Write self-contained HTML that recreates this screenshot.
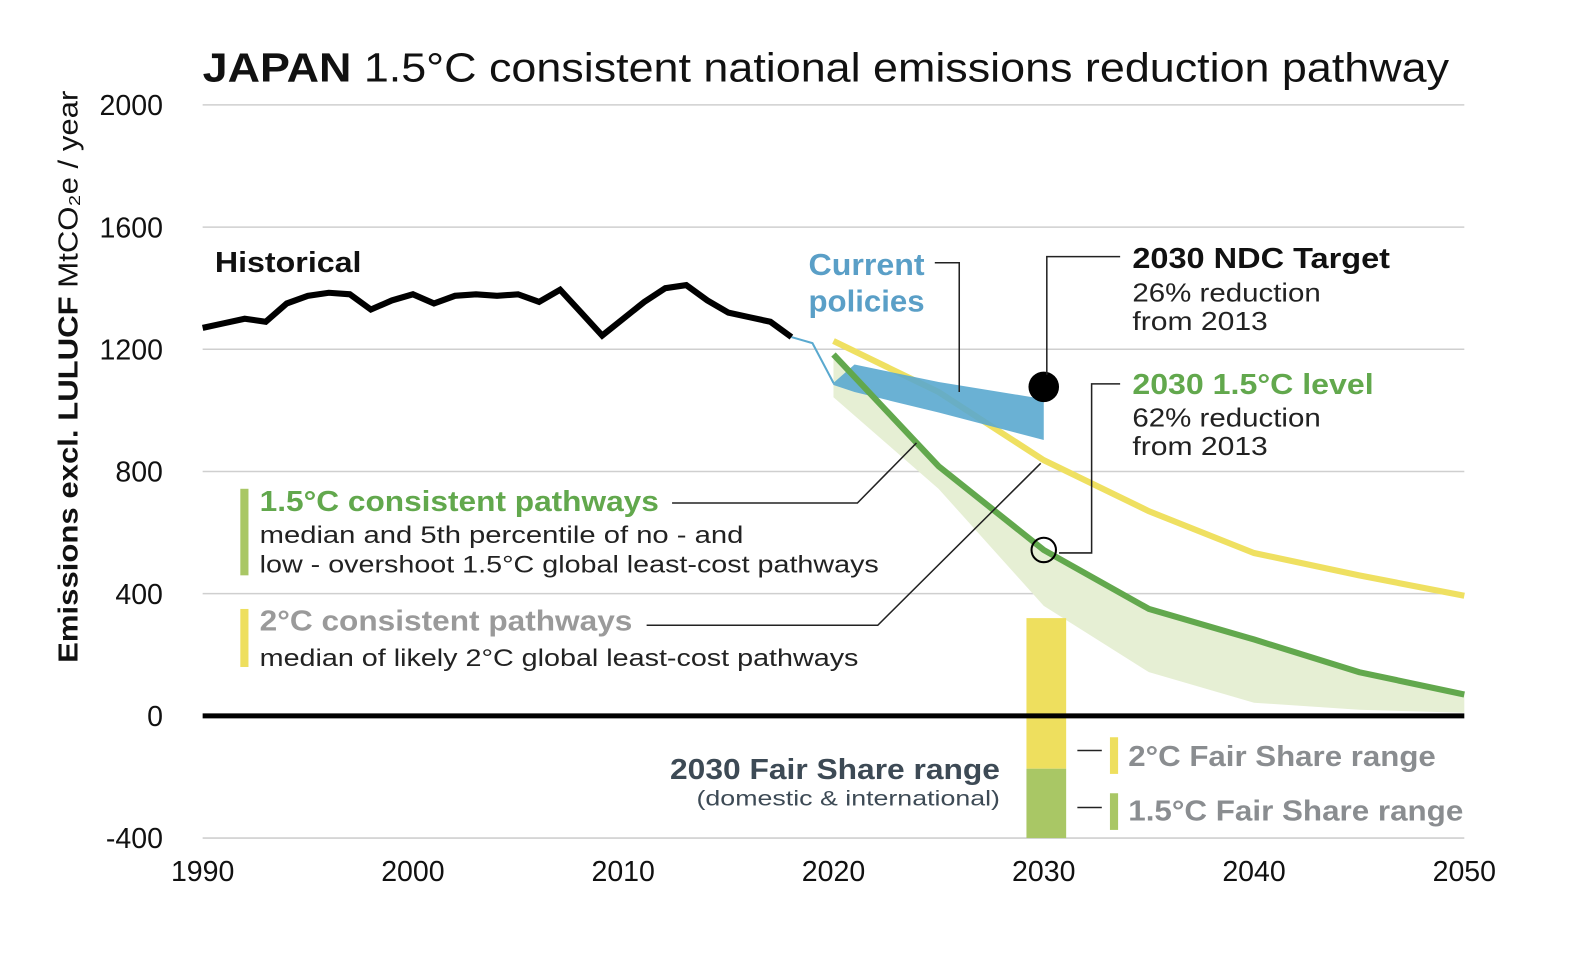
<!DOCTYPE html>
<html><head><meta charset="utf-8">
<style>
html,body{margin:0;padding:0;background:#fff;}
svg{display:block;font-family:"Liberation Sans","DejaVu Sans",sans-serif;}
</style></head>
<body>
<svg id="chart" width="1596" height="960" viewBox="0 0 1596 960">
<g transform="scale(1.0183)">
<text x="199" y="80" font-size="40" fill="#111" textLength="1224" lengthAdjust="spacingAndGlyphs"><tspan font-weight="bold">JAPAN</tspan> 1.5°C consistent national emissions reduction pathway</text>
<g id="grid"></g>
<g id="marks"></g>
<g id="annot"></g>
<text transform="translate(76,370) rotate(-90)" text-anchor="middle" font-size="27" fill="#111" textLength="562" lengthAdjust="spacingAndGlyphs"><tspan font-weight="bold">Emissions excl. LULUCF</tspan> MtCO₂e / year</text>
</g>
</svg>
<script>
const histYears=[1990,1991,1992,1993,1994,1995,1996,1997,1998,1999,2000,2001,2002,2003,2004,2005,2006,2007,2008,2009,2010,2011,2012,2013,2014,2015,2016,2017,2018];
const histValues=[1270,1285,1300,1290,1350,1375,1385,1380,1330,1360,1380,1350,1375,1380,1375,1380,1355,1395,1320,1245,1300,1355,1400,1410,1360,1320,1305,1290,1240];
const cpYears=[2018,2019,2020,2021,2025,2030];
const cpTop=[1240,1220,1090,1150,1093,1037];
const cpBottom=[1240,1220,1083,1060,993,903];
const pathYears=[2020,2025,2030,2035,2040,2045,2050];
const twoDegMedian=[1227,1060,837,670,533,460,393];
const onePointFiveMedian=[1183,817,543,350,250,143,70];
const onePointFiveP5=[1043,743,360,143,43,20,10];
const fairShare2C=[320,-173];
const fairShare15C=[-173,-400];
const ndcTarget=1077;
const level15=543;
const yTicks=[2000,1600,1200,800,400,0,-400];
const xTicks=[1990,2000,2010,2020,2030,2040,2050];

const NS="http://www.w3.org/2000/svg";
const X=y=>199+(y-1990)*(1438-199)/60;
const Y=v=>703-v*0.3;
function mk(tag,attrs,parent){const e=document.createElementNS(NS,tag);for(const k in attrs)e.setAttribute(k,attrs[k]);parent.appendChild(e);return e;}
const grid=document.getElementById('grid'),marks=document.getElementById('marks'),ann=document.getElementById('annot');

yTicks.forEach(t=>{
  if(t!==0){const l=mk('line',{x1:199,x2:1438,y1:Y(t),y2:Y(t),stroke:'#cfcfcf','stroke-width':1.5},grid);
  
  }
  const tx=mk('text',{x:160,y:Y(t)+10,'text-anchor':'end','font-size':28,fill:'#111'},grid);
  tx.textContent=t;
  
  
});
xTicks.forEach(t=>{
  const tx=mk('text',{x:X(t),y:865,'text-anchor':'middle','font-size':28,fill:'#111'},grid);
  tx.textContent=t;
  
  
});
const pts=(xs,vs)=>xs.map((x,i)=>X(x)+','+Y(vs[i])).join(' ');

let e=mk('polygon',{points:pts(pathYears,onePointFiveMedian)+' '+pts(pathYears.slice().reverse(),onePointFiveP5.slice().reverse()),fill:'#e6efd4'},marks);


e=mk('rect',{x:1008,width:39,y:Y(fairShare2C[0]),height:Y(fairShare2C[1])-Y(fairShare2C[0]),fill:'#eedf5e'},marks);


e=mk('rect',{x:1008,width:39,y:Y(fairShare15C[0]),height:Y(fairShare15C[1])-Y(fairShare15C[0]),fill:'#a9c765'},marks);


e=mk('line',{x1:199,x2:1438,y1:Y(0),y2:Y(0),stroke:'#000','stroke-width':5},marks);


e=mk('polyline',{points:pts(pathYears,twoDegMedian),fill:'none',stroke:'#efe061','stroke-width':6},marks);


e=mk('polygon',{points:pts(cpYears.slice(2),cpTop.slice(2))+' '+pts(cpYears.slice(2).reverse(),cpBottom.slice(2).reverse())+' '+X(cpYears[1])+','+Y(cpTop[1]),fill:'#5aa9cf','fill-opacity':0.9},marks);


e=mk('polyline',{points:pts(cpYears.slice(0,3),cpTop.slice(0,3)),fill:'none',stroke:'#5aa9cf','stroke-width':2},marks);


e=mk('polyline',{points:pts(pathYears,onePointFiveMedian),fill:'none',stroke:'#62a84d','stroke-width':6},marks);


e=mk('polyline',{points:pts(histYears,histValues),fill:'none',stroke:'#000','stroke-width':6,'stroke-linejoin':'miter'},marks);


e=mk('circle',{cx:X(2030),cy:Y(ndcTarget),r:15,fill:'#000'},marks);


e=mk('circle',{cx:X(2030),cy:Y(level15),r:12,fill:'none',stroke:'#000','stroke-width':2},marks);



const leaders=[
 ['current-policies-leader','918,258 942,258 942,385'],
 ['ndc-leader','1100,252 1028,252 1028,368'],
 ['level-leader','1100,377 1072,377 1072,543 1040,543'],
 ['pathways-15-leader','660,494 842,494 900,435'],
 ['pathways-2-leader','635,614 862,614 1022,455'],
 ['fair-2-leader','1058,737 1082,737'],
 ['fair-15-leader','1058,793 1082,793']];
leaders.forEach(l=>{e=mk('polyline',{points:l[1],fill:'none',stroke:'#222','stroke-width':1.5},ann);
 
 });
const bars=[['legend-15-swatch',236,480,8,85,'#a9c765'],['legend-2-swatch',236,598,8,57,'#eedf5e'],['fair-2-swatch',1090,724,8,36,'#eedf5e'],['fair-15-swatch',1090,779,8,36,'#a9c765']];
bars.forEach(b=>{e=mk('rect',{x:b[1],y:b[2],width:b[3],height:b[4],fill:b[5]},ann);
 
 });
const texts=[
 ['historical-label',211,267,'Historical',28,'bold','#111','start',144],
 ['current-policies-label-1',794,270,'Current',30,'bold','#5a9fc7','start',114],
 ['current-policies-label-2',794,306,'policies',30,'bold','#5a9fc7','start',114],
 ['ndc-label',1112,263,'2030 NDC Target',28,'bold','#111','start',253],
 ['ndc-sub-1',1112,296,'26% reduction',25,'normal','#222','start',185],
 ['ndc-sub-2',1112,324,'from 2013',25,'normal','#222','start',133],
 ['level-label',1112,387,'2030 1.5°C level',28,'bold','#62a84d','start',237],
 ['level-sub-1',1112,419,'62% reduction',25,'normal','#222','start',185],
 ['level-sub-2',1112,447,'from 2013',25,'normal','#222','start',133],
 ['legend-15-title',255,502,'1.5°C consistent pathways',28,'bold','#62a84d','start',392],
 ['legend-15-sub-1',255,533,'median and 5th percentile of no - and',24,'normal','#222','start',475],
 ['legend-15-sub-2',255,562,'low - overshoot 1.5°C global least-cost pathways',24,'normal','#222','start',608],
 ['legend-2-title',255,619,'2°C consistent pathways',28,'bold','#9a9a9a','start',366],
 ['legend-2-sub',255,654,'median of likely 2°C global least-cost pathways',24,'normal','#222','start',588],
 ['fair-share-title',982,765,'2030 Fair Share range',28,'bold','#3d4a55','end',324],
 ['fair-share-sub',982,791,'(domestic & international)',21,'normal','#3d4a55','end',298],
 ['fair-2-label',1108,752,'2°C Fair Share range',28,'bold','#8a8d90','start',302],
 ['fair-15-label',1108,806,'1.5°C Fair Share range',28,'bold','#8a8d90','start',329]];
texts.forEach(t=>{e=mk('text',{x:t[1],y:t[2],'font-size':t[4],'font-weight':t[5],fill:t[6],'text-anchor':t[7],textLength:t[8],lengthAdjust:'spacingAndGlyphs'},ann);
 e.textContent=t[3];
 
 });
</script>
</body></html>
